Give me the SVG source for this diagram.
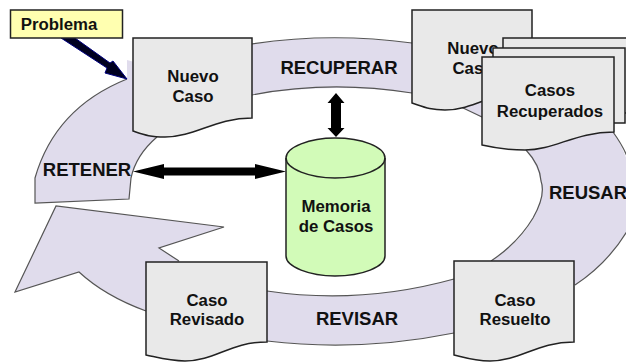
<svg xmlns="http://www.w3.org/2000/svg" width="626" height="362" viewBox="0 0 626 362">
<style>
.doc{fill:#e9e9e9;stroke:#222;stroke-width:1.5}
.ring{fill:#e0dcec;stroke:none}
text{font-family:"Liberation Sans",Arial,sans-serif;font-weight:bold;font-size:16.800px;fill:#111;text-anchor:middle}
.big{font-size:18.500px}
</style>
<rect width="626" height="362" fill="#fff"/>
<g id="ciclo">
<path class="ring" d="M56 206 L224 227 L159 248 L179 261 L200 275 L267 291 Q360 305 454 279 L491 261 Q532 235 541 198 Q545 175 526 150 Q500 125 461 107 Q435 95 412 93 Q330 82 252 95 L252 44 Q330 33 412 43 L500 60 L613 132 Q628 155 630 175 L630 225 Q610 262 575 285 L454 333 Q360 351 267 341 L146 311 Q110 298 79 272 L15 292 Z"/>
<path class="ring" d="M127 79 Q55 108 35 178 L35 203 L129 199 L131 178 Q136 155 157 137 L200 80 L127 60 Z"/>
<g fill="none" stroke="#555" stroke-width="1.2">
<path d="M127 79 Q55 108 35 178 L35 203 L129 199 L131 178 Q136 155 157 137"/>
<path d="M252 44 Q330 32 412 43"/>
<path d="M252 95 Q330 80 412 93"/>
<path d="M461 107 L482 117"/>
<path d="M526 150 Q540 165 541 181 Q546 195 533 218 Q518 243 491 261"/>
<path d="M613 132 Q626 150 630 165"/>
<path d="M630 226 Q610 262 575 285"/>
<path d="M454 279 Q360 305 267 291"/>
<path d="M454 333 Q360 352 267 341"/>
<path d="M179 261 L159 248 L224 227 L56 206 L15 292 L79 272 Q105 296 146 311"/>
</g>
</g>
<g id="conectores">
<path d="M61 38 L75 38 L110 63 L113 61 L127 79 L105 73 L107 68 Z" fill="#000020" stroke="#000080" stroke-width="1"/>
<path d="M133 171.500 L164 164 L164 167.500 L255 167.500 L255 164 L286 171.500 L255 179 L255 175.500 L164 175.500 L164 179 Z" fill="#000"/>
<path d="M336 93 L344.500 103 L341 103 L341 128 L344.500 128 L336 137 L327.500 128 L331 128 L331 103 L327.500 103 Z" fill="#000"/>
</g>
<g id="problema">
<rect x="10.500" y="10" width="112" height="28" fill="#ffffb0" stroke="#222" stroke-width="1.500"/>
<text x="59" y="30">Problema</text>
</g>
<g id="nuevo-caso">
<path class="doc" d="M133 38 H252 V118 C215 118 195 137 165 137 C150 137 145 135 133 131 Z"/>
<text x="193" y="82">Nuevo</text><text x="193" y="102">Caso</text>
</g>
<g id="nuevo-caso-2">
<path class="doc" d="M412 10 H532 V90 C495 90 475 110 445 110 C430 110 424 107 412 103 Z"/>
<text x="473" y="54">Nuevo</text><text x="473" y="74">Caso</text>
</g>
<g id="casos-recuperados">
<path class="doc" d="M503 38 H632 V113 H503 Z"/>
<path class="doc" d="M493 48 H625 V123 H493 Z"/>
<path class="doc" d="M482 57 H614 V132 C575 132 555 150 525 150 C505 150 495 148 482 145 Z"/>
<text x="550" y="96">Casos</text><text x="550" y="117">Recuperados</text>
</g>
<g id="memoria">
<path d="M286 158 C286 147 310 138 335 138 C362 138 385 147 385 158 V256 C385 267 362 276 335 276 C310 276 286 267 286 256 Z" fill="#d2fbb8" stroke="#222" stroke-width="1.500"/>
<path d="M286 158 C286 169 310 178 335 178 C362 178 385 169 385 158" fill="none" stroke="#222" stroke-width="1.500"/>
<text x="336" y="212">Memoria</text><text x="336" y="232">de Casos</text>
</g>
<g id="caso-revisado">
<path class="doc" d="M146 262 H267 V342 C230 342 215 361 185 361 C170 361 160 358 146 355 Z"/>
<text x="207" y="306">Caso</text><text x="207" y="325">Revisado</text>
</g>
<g id="caso-resuelto">
<path class="doc" d="M454 261 H574 V342 C537 342 520 361 490 361 C475 361 466 358 454 355 Z"/>
<text x="515" y="306">Caso</text><text x="515" y="325">Resuelto</text>
</g>
<g id="etiquetas">
<text class="big" x="339" y="74">RECUPERAR</text>
<text class="big" x="87" y="176">RETENER</text>
<text class="big" x="588" y="199">REUSAR</text>
<text class="big" x="357" y="325">REVISAR</text>
</g>
</svg>
